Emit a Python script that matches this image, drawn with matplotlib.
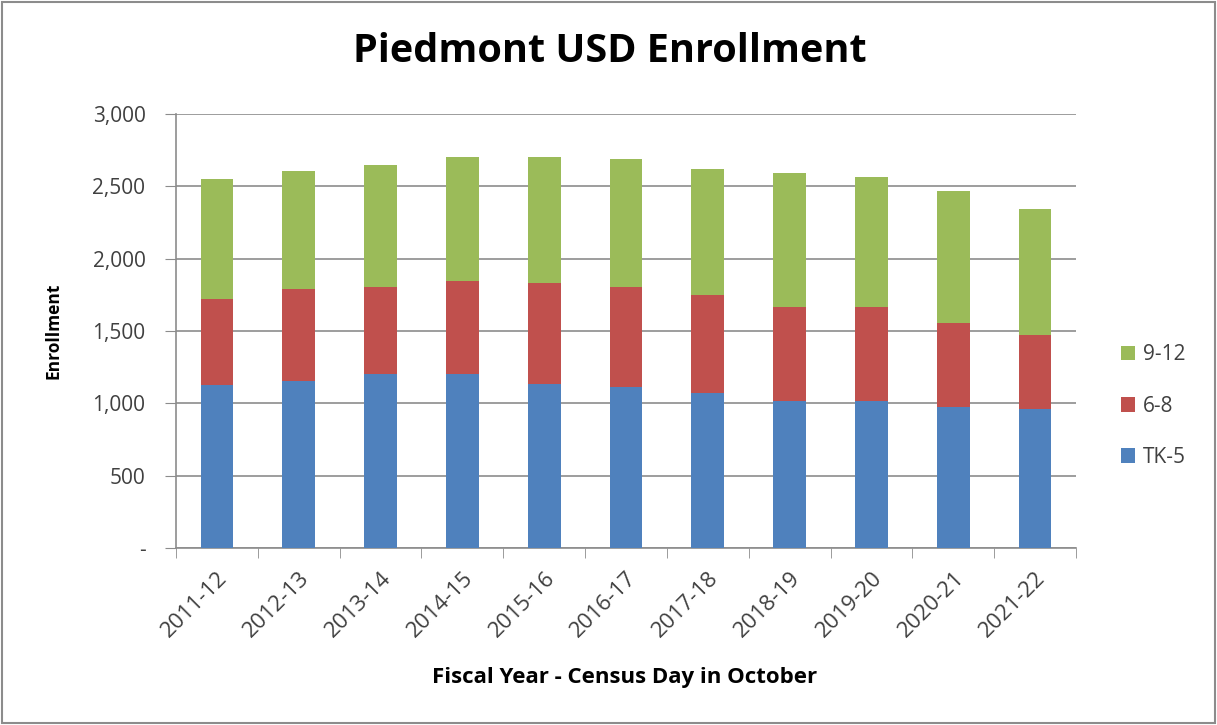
import matplotlib.pyplot as plt
from matplotlib.patches import Rectangle
from matplotlib.ticker import FuncFormatter

years = ['2011-12', '2012-13', '2013-14', '2014-15', '2015-16', '2016-17',
         '2017-18', '2018-19', '2019-20', '2020-21', '2021-22']
tk5 = [1127, 1157, 1201, 1201, 1136, 1113, 1071, 1016, 1016, 974, 961]
g6_8 = [595, 635, 604, 646, 697, 692, 679, 651, 651, 582, 512]
g9_12 = [831, 817, 845, 859, 873, 887, 872, 927, 900, 914, 872]

plt.rcParams['font.family'] = ['Open Sans', 'DejaVu Sans']

fig = plt.figure(figsize=(12.17, 7.25), dpi=100)
ax = fig.add_axes([176 / 1217, 177 / 725, 900 / 1217, 434 / 725])

x = list(range(len(years)))
w = 0.4
ax.bar(x, tk5, w, color='#4F81BD', label='TK-5', zorder=3)
ax.bar(x, g6_8, w, bottom=tk5, color='#C0504D', label='6-8', zorder=3)
bottom2 = [a + b for a, b in zip(tk5, g6_8)]
ax.bar(x, g9_12, w, bottom=bottom2, color='#9BBB59', label='9-12', zorder=3)

ax.set_xlim(-0.5, len(years) - 0.5)
ax.set_ylim(0, 3000)
ax.set_yticks(range(0, 3001, 500))
ax.yaxis.set_major_formatter(FuncFormatter(lambda v, p: '-' if v == 0 else '{:,.0f}'.format(v)))
ax.grid(axis='y', color='#8c8c8c', linewidth=1.2, zorder=0)

ax.set_xticks(x)
ax.set_xticklabels(years, rotation=45, ha='right', rotation_mode='anchor', fontsize=16, color='#404040')
ax.set_xticks([i - 0.5 for i in range(len(years) + 1)], minor=True)
ax.tick_params(axis='x', which='major', length=0, pad=14)
ax.tick_params(axis='x', which='minor', length=7, color='#8c8c8c')
ax.tick_params(axis='y', length=8, color='#8c8c8c', labelsize=15, labelcolor='#404040', pad=14)

for s in ['top', 'right']:
    ax.spines[s].set_visible(False)
for s in ['left', 'bottom']:
    ax.spines[s].set_color('#8c8c8c')
    ax.spines[s].set_linewidth(1.2)

ax.set_ylabel('Enrollment', fontsize=12.5, fontweight='bold')
ax.yaxis.set_label_coords(-113 / 900, 0.5)
ax.set_xlabel('Fiscal Year - Census Day in October', fontsize=16, fontweight='bold')
ax.xaxis.set_label_coords(449 / 900, -119 / 434)
fig.text(610 / 1217, 1 - 52 / 725, 'Piedmont USD Enrollment', ha='center', va='center',
         fontsize=28.5, fontweight='bold')

handles, labels = ax.get_legend_handles_labels()
fig.legend(handles[::-1], labels[::-1], loc='center left', bbox_to_anchor=(1102 / 1217, 1 - 406 / 725),
           frameon=False, fontsize=15, handlelength=0.7, handleheight=0.7, handletextpad=0.35,
           labelspacing=1.45, labelcolor='#404040')

fig.patches.append(Rectangle((0.002, 0.003), 0.996, 0.994, transform=fig.transFigure,
                             fill=False, edgecolor='#8c8c8c', linewidth=1.5))

fig.savefig('out.png', dpi=100)
